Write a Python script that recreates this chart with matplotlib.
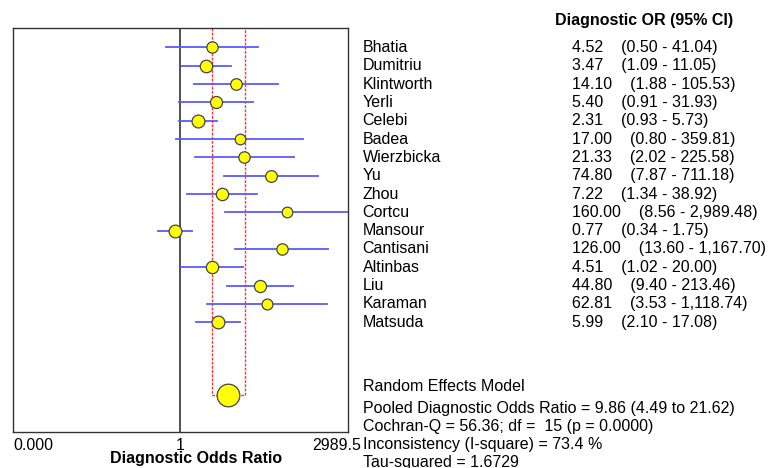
import numpy as np
import matplotlib
matplotlib.use("Agg")
import matplotlib.pyplot as plt
from matplotlib.transforms import blended_transform_factory, ScaledTranslation

plt.rcParams['font.family'] = ['Liberation Sans', 'DejaVu Sans']

studies = ["Bhatia", "Dumitriu", "Klintworth", "Yerli", "Celebi", "Badea", "Wierzbicka",
           "Yu", "Zhou", "Cortcu", "Mansour", "Cantisani", "Altinbas", "Liu", "Karaman", "Matsuda"]
dor = [4.52, 3.47, 14.10, 5.40, 2.31, 17.00, 21.33, 74.80, 7.22, 160.00, 0.77, 126.00, 4.51, 44.80, 62.81, 5.99]
ci_low = [0.50, 1.09, 1.88, 0.91, 0.93, 0.80, 2.02, 7.87, 1.34, 8.56, 0.34, 13.60, 1.02, 9.40, 3.53, 2.10]
ci_high = [41.04, 11.05, 105.53, 31.93, 5.73, 359.81, 225.58, 711.18, 38.92, 2989.48, 1.75, 1167.70, 20.00, 213.46, 1118.74, 17.08]
weights = [5.4, 6.6, 5.7, 6.1, 7.0, 4.8, 5.5, 5.8, 6.4, 4.8, 6.9, 5.5, 6.4, 6.2, 5.0, 6.9]

pooled = 9.86
pooled_low = 4.49
pooled_high = 21.62
xmax = 2989.5

summary_lines = ["Random Effects Model",
                 "Pooled Diagnostic Odds Ratio = 9.86 (4.49 to 21.62)",
                 "Cochran-Q = 56.36; df =  15 (p = 0.0000)",
                 "Inconsistency (I-square) = 73.4 %",
                 "Tau-squared = 1.6729"]

W, H = 771, 468
fig = plt.figure(figsize=(W / 100, H / 100), dpi=100)
ax = fig.add_axes([13.3 / W, 1 - 432.3 / H, (347.7 - 13.3) / W, (432.3 - 28.3) / H])

fs = 11.5
n = len(studies)
rows = np.arange(n)
pooled_row = 18.98
ytop = -1.04
ybot = 21.0

ax.set_xscale('log')
ax.set_xlim(1 / xmax, xmax)
ax.set_ylim(ybot, ytop)

# null line
ax.axvline(1, color='#333333', lw=1.2, zorder=1)

# pooled CI red dashed outline
ax.plot([pooled_low, pooled_low, pooled_high, pooled_high],
        [ytop, pooled_row, pooled_row, ytop],
        color='#ff3333', lw=1.0, ls=(0, (2, 1)), zorder=2, clip_on=False)

# study CIs and points
for i in range(n):
    ax.plot([ci_low[i], ci_high[i]], [rows[i], rows[i]], color='#5a5aff', lw=1.3, zorder=3)
    ax.plot(dor[i], rows[i], 'o', ms=3.5 * np.sqrt(weights[i]), mfc='#ffff00',
            mec='#444444', mew=0.9, zorder=4)

ax.plot(pooled, pooled_row, 'o', ms=16.3, mfc='#ffff00', mec='#444444', mew=0.9, zorder=5)

for s in ax.spines.values():
    s.set_color('#333333')
    s.set_linewidth(1.0)

ax.set_yticks([])
ax.minorticks_off()
ax.set_xticks([1 / xmax, 1, xmax])
ax.set_xticklabels(['0.000', '1', '2989.5'])
ax.tick_params(axis='x', length=0, pad=4, labelsize=fs)
labs = ax.get_xticklabels()
labs[0].set_ha('left')
labs[2].set_ha('right')
labs[2].set_transform(labs[2].get_transform() + ScaledTranslation(13 / 100, 0, fig.dpi_scale_trans))

fig.text(195.8 / W, 1 - 459 / H, "Diagnostic Odds Ratio", ha='center', va='center',
         fontsize=fs, fontweight='bold')

# right side text
tr = blended_transform_factory(fig.transFigure, ax.transData)
fig.text(555 / W, 1 - 20 / H, "Diagnostic OR (95% CI)", ha='left', va='center',
         fontsize=fs, fontweight='bold')
for i in range(n):
    ax.text(362.7 / W, rows[i], studies[i], transform=tr, ha='left', va='center',
            fontsize=fs, clip_on=False)
    lo = f"{ci_low[i]:,.2f}"
    hi = f"{ci_high[i]:,.2f}"
    ax.text(571.7 / W, rows[i], f"{dor[i]:.2f}    ({lo} - {hi})", transform=tr,
            ha='left', va='center', fontsize=fs, clip_on=False)

summary_y = [386.7, 408, 426.7, 445, 463]
for yy, line in zip(summary_y, summary_lines):
    fig.text(363.3 / W, 1 - yy / H, line, ha='left', va='center', fontsize=fs)

fig.savefig("out.png", dpi=100)
